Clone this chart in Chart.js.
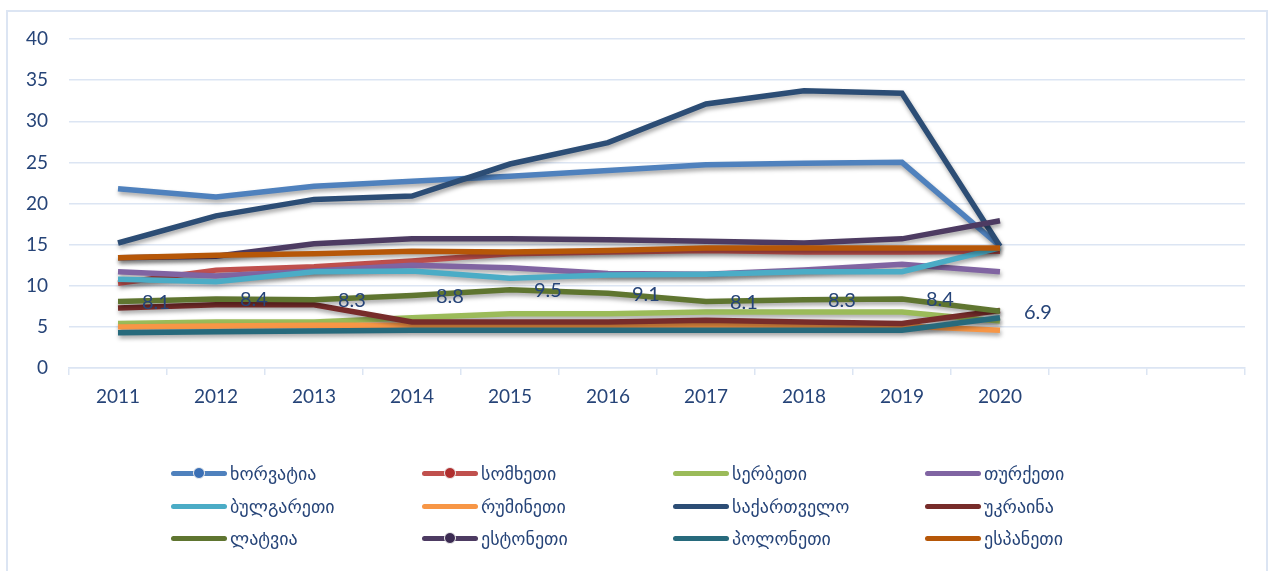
<!DOCTYPE html>
<html>
<head>
<meta charset="utf-8">
<script src="https://cdn.jsdelivr.net/npm/chart.js@4.4.1/dist/chart.umd.min.js"></script>
<style>
  html, body { margin: 0; padding: 0; background: #fff; }
  #wrap { position: relative; width: 1275px; height: 571px; overflow: hidden; }
  #frame { position: absolute; left: 6px; top: 10px; width: 1262px; height: 600px; border: 2px solid #DCE5F3; box-sizing: border-box; }
  canvas { position: absolute; left: 0; top: 0; }
  #legend { position: absolute; left: 0; top: 0; width: 1275px; height: 571px; font-family: "DejaVu Sans", sans-serif; }
  .item { position: absolute; display: flex; align-items: center; height: 24px; color: #264478; font-size: 18px; }
  .sample { position: relative; width: 56px; height: 5px; border-radius: 3px; margin-right: 3px; }
  .sample i { position: absolute; left: 22px; top: -4px; width: 10px; height: 10px; border-radius: 50%; border: 1px solid #eee; }
</style>
</head>
<body>
<div id="wrap">
  <div id="frame"></div>
  <canvas id="chart" width="1275" height="440"></canvas>
  <div id="legend"></div>
</div>
<script>
// years, the last two categories are empty on the original axis
const years = ['2011', '2012', '2013', '2014', '2015', '2016', '2017', '2018', '2019', '2020', '', ''];

const names = ['ხორვატია', 'სომხეთი', 'სერბეთი', 'თურქეთი', 'ბულგარეთი', 'რუმინეთი',
  'საქართველო', 'უკრაინა', 'ლატვია', 'ესტონეთი', 'პოლონეთი', 'ესპანეთი'];
const colors = ['#4F81BD', '#C0504D', '#9BBB59', '#8064A2', '#4BACC6', '#F79646',
  '#2C4D75', '#772C2A', '#5F7530', '#4D3B62', '#276A7C', '#B65708'];

const croatia  = [21.8, 20.8, 22.1, 22.7, 23.3, 24.0, 24.7, 24.9, 25.0, 14.8];
const armenia  = [10.3, 11.9, 12.3, 13.0, 13.9, 14.1, 14.3, 14.1, 14.1, 14.2];
const serbia   = [5.4, 5.6, 5.6, 6.1, 6.6, 6.6, 6.8, 6.8, 6.8, 5.7];
const turkey   = [11.7, 11.2, 11.8, 12.5, 12.2, 11.5, 11.4, 11.9, 12.6, 11.7];
const bulgaria = [10.8, 10.5, 11.7, 11.8, 10.9, 11.3, 11.4, 11.7, 11.7, 14.6];
const romania  = [5.0, 5.1, 5.2, 5.2, 5.2, 5.2, 5.2, 5.2, 5.1, 4.6];
const georgia  = [15.2, 18.5, 20.5, 20.9, 24.8, 27.4, 32.1, 33.7, 33.4, 14.8];
const ukraine  = [7.3, 7.7, 7.7, 5.6, 5.6, 5.6, 5.8, 5.6, 5.4, 7.0];
const latvia   = [8.1, 8.4, 8.3, 8.8, 9.5, 9.1, 8.1, 8.3, 8.4, 6.9];
const estonia  = [13.4, 13.6, 15.1, 15.7, 15.7, 15.6, 15.4, 15.2, 15.7, 17.9];
const poland   = [4.3, 4.4, 4.5, 4.6, 4.6, 4.6, 4.6, 4.6, 4.6, 6.1];
const spain    = [13.4, 13.7, 13.9, 14.2, 14.1, 14.3, 14.6, 14.6, 14.6, 14.6];

const series = [croatia, armenia, serbia, turkey, bulgaria, romania,
  georgia, ukraine, latvia, estonia, poland, spain];
const labelled = 8; // only latvia carries value labels
const withMarker = [0, 1, 9];
const markerColors = { 0: '#3A6FB5', 1: '#B02E2E', 9: '#3B2B52' };

// excel draws later series on top, chart.js draws index 0 on top -> reverse
const datasets = series.map((d, i) => ({
  label: names[i],
  data: d,
  borderColor: colors[i],
  backgroundColor: colors[i],
  borderWidth: 5.5,
  pointRadius: 0,
  tension: 0,
  fill: false,
  srcIndex: i
})).reverse();

const shadow = {
  id: 'shadow',
  beforeDatasetDraw(chart) {
    const ctx = chart.ctx;
    ctx.save();
    ctx.shadowColor = 'rgba(0,0,0,0.35)';
    ctx.shadowBlur = 4;
    ctx.shadowOffsetX = 1;
    ctx.shadowOffsetY = 3;
  },
  afterDatasetDraw(chart) {
    chart.ctx.restore();
  }
};

const valueLabels = {
  id: 'valueLabels',
  afterDatasetsDraw(chart) {
    const ctx = chart.ctx;
    chart.data.datasets.forEach((ds, di) => {
      if (ds.srcIndex !== labelled) return;
      const meta = chart.getDatasetMeta(di);
      ctx.save();
      ctx.font = '20px Lato, sans-serif';
      ctx.fillStyle = '#264478';
      ctx.textAlign = 'left';
      ctx.textBaseline = 'middle';
      meta.data.forEach((pt, k) => {
        ctx.fillText(ds.data[k].toFixed(1), pt.x + 24, pt.y + 1);
      });
      ctx.restore();
    });
  }
};

const gridColor = '#DCE5F3';

new Chart(document.getElementById('chart'), {
  type: 'line',
  data: { labels: years, datasets: datasets },
  plugins: [shadow, valueLabels],
  options: {
    responsive: false,
    animation: false,
    layout: { padding: { left: 0, right: 30, top: 39, bottom: 12 } },
    plugins: { legend: { display: false }, tooltip: { enabled: false } },
    scales: {
      x: {
        offset: true,
        grid: { offset: true, drawOnChartArea: false, color: gridColor, lineWidth: 1.5, tickLength: 7 },
        border: { display: true, color: gridColor, width: 1.5 },
        ticks: { color: '#264478', font: { family: 'Lato', size: 19 }, padding: 10, maxRotation: 0, autoSkip: false },
        afterFit(scale) { scale.height = 60; }
      },
      y: {
        min: 0,
        max: 40,
        ticks: { stepSize: 5, color: '#264478', font: { family: 'Lato', size: 19 }, padding: 21 },
        grid: { color: gridColor, lineWidth: 1.5, drawTicks: false },
        border: { display: false },
        afterFit(scale) { scale.width = 69; }
      }
    }
  }
});

// legend, 4 columns like the original
const legend = document.getElementById('legend');
const colX = [171, 422, 673, 925];
const rowY = [461, 494, 526];
names.forEach((n, i) => {
  const el = document.createElement('div');
  el.className = 'item';
  el.style.left = colX[i % 4] + 'px';
  el.style.top = rowY[Math.floor(i / 4)] + 'px';
  const s = document.createElement('span');
  s.className = 'sample';
  s.style.background = colors[i];
  if (withMarker.includes(i)) {
    const m = document.createElement('i');
    m.style.background = markerColors[i];
    s.appendChild(m);
  }
  el.appendChild(s);
  const t = document.createElement('span');
  t.textContent = n;
  el.appendChild(t);
  legend.appendChild(el);
});
</script>
</body>
</html>
